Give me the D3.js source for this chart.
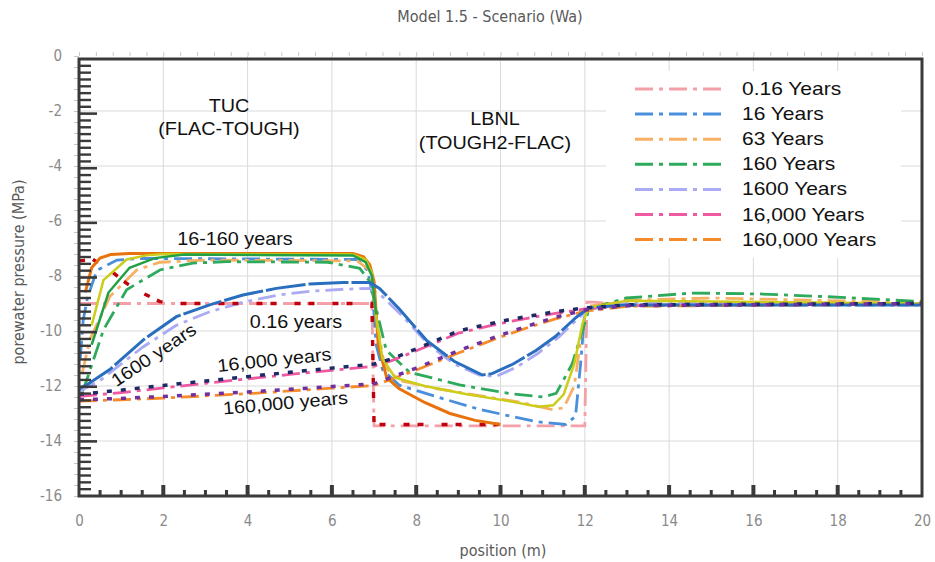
<!DOCTYPE html>
<html><head><meta charset="utf-8">
<script src="https://cdn.jsdelivr.net/npm/d3@7"></script>
<style>body{margin:0;background:#fff}svg{display:block}</style>
</head><body>
<svg id="chart" width="935" height="562"></svg>
<script>
// ---- axis ticks ----
const xTickValues = [0, 2, 4, 6, 8, 10, 12, 14, 16, 18, 20];
const yTickValues = [0, -2, -4, -6, -8, -10, -12, -14, -16];

// ---- LBNL (TOUGH2-FLAC) results, [position m, pressure MPa] ----
const lbnl016 = [[0,-9.0],[6.95,-9.0],[7.0,-13.45],[12.0,-13.45],[12.05,-8.95],[12.2,-8.95],[13,-9.05],[20,-9.05]];
const lbnl16 = [[0.03,-11.0],[0.1,-9.6],[0.2,-8.8],[0.42,-7.8],[0.9,-7.42],[1.5,-7.36],[6.6,-7.4],[6.85,-7.8],[6.97,-8.75],[7.05,-10.5],[7.2,-11.4],[7.6,-11.97],[8.5,-12.4],[9.5,-12.85],[10.85,-13.3],[11.55,-13.4],[11.78,-13.1],[11.9,-11.2],[12.0,-9.3],[12.2,-9.1],[13,-9.05],[20,-9.05]];
const lbnl63 = [[0.08,-11.5],[0.26,-10.3],[0.73,-8.75],[1.37,-7.78],[1.92,-7.5],[3,-7.42],[6.6,-7.45],[6.9,-7.8],[7.05,-9.5],[7.25,-11.3],[7.6,-11.8],[8.5,-12.1],[9.5,-12.35],[10.5,-12.6],[11.2,-12.85],[11.5,-12.8],[11.75,-12.0],[11.95,-9.8],[12.1,-9.1],[13,-8.88],[15,-8.8],[20,-8.97]];
const lbnl160 = [[0.08,-12.2],[0.18,-11.8],[0.58,-9.96],[1.13,-8.5],[1.92,-7.78],[2.7,-7.53],[3.5,-7.48],[5.9,-7.5],[6.66,-7.72],[6.9,-8.2],[7.1,-9.5],[7.29,-10.7],[7.84,-11.5],[9.03,-11.96],[10.2,-12.27],[11.0,-12.4],[11.32,-12.27],[11.7,-11.2],[11.95,-9.97],[12.1,-9.2],[12.98,-8.8],[14.55,-8.62],[16.1,-8.65],[17.7,-8.75],[20,-8.93]];
const lbnl1600 = [[0,-12.2],[0.5,-11.8],[1.5,-10.6],[2.3,-9.8],[3.1,-9.3],[3.9,-8.95],[4.7,-8.7],[5.5,-8.55],[6.3,-8.48],[6.9,-8.45],[7.2,-8.75],[7.7,-9.5],[8.3,-10.5],[8.9,-11.2],[9.5,-11.6],[9.9,-11.65],[10.4,-11.3],[10.9,-10.8],[11.4,-10.2],[11.8,-9.6],[12.1,-9.2],[13,-9.0],[20,-9.0]];
const lbnl16000 = [[0,-12.38],[1,-12.24],[2,-12.07],[3,-11.9],[4,-11.74],[5,-11.58],[6,-11.43],[7,-11.28],[7.45,-11.06],[8,-10.72],[9,-10.08],[10,-9.72],[10.6,-9.55],[11.3,-9.36],[12,-9.2],[13,-9.08],[20,-9.02]];
const lbnl160000 = [[0,-12.55],[1,-12.5],[2,-12.44],[3,-12.36],[4,-12.28],[5,-12.18],[6,-12.08],[7,-11.98],[7.45,-11.73],[8,-11.42],[9,-10.8],[10,-10.22],[10.6,-9.9],[11.3,-9.56],[12,-9.28],[13,-9.1],[20,-9.02]];

// ---- TUC (FLAC-TOUGH) results, [position m, pressure MPa] ----
const tuc016 = [[0,-7.45],[0.33,-7.4],[0.73,-7.78],[1.13,-8.27],[1.52,-8.63],[1.92,-8.93],[2.3,-9.0],[6.95,-9.0],[7.0,-13.4],[10.2,-13.4]];
const tuc16 = [[0.15,-8.6],[0.3,-7.7],[0.5,-7.35],[0.75,-7.22],[1.2,-7.18],[6.5,-7.18],[6.75,-7.3],[6.9,-7.6],[7.0,-8.2],[7.1,-10.5],[7.3,-11.7],[7.6,-12.1],[8.2,-12.6],[8.8,-13.0],[9.4,-13.25],[10,-13.4]];
const tuc63 = [[0.3,-9.8],[0.58,-8.15],[1.13,-7.4],[1.6,-7.25],[2,-7.2],[6.5,-7.22],[6.8,-7.4],[6.95,-7.9],[7.05,-9.5],[7.2,-11.0],[7.5,-11.7],[8.2,-12.0],[9.2,-12.3],[10.2,-12.55],[10.9,-12.75],[11.25,-12.7],[11.5,-12.3],[11.75,-11.2],[11.95,-9.7],[12.1,-9.15],[13,-8.9],[20,-9.0]];
const tuc160 = [[0.3,-10.5],[0.7,-8.6],[1.2,-7.7],[1.8,-7.35],[2.5,-7.22],[6.5,-7.25],[6.8,-7.5],[6.95,-8.0],[7.05,-9.4]];
const tuc1600 = [[0,-12.1],[0.18,-11.96],[0.73,-11.4],[1.52,-10.33],[2.31,-9.48],[3.1,-9.05],[3.89,-8.69],[4.68,-8.45],[5.47,-8.29],[6.26,-8.24],[6.9,-8.24],[7.13,-8.45],[7.6,-9.2],[8.24,-10.33],[8.9,-11.1],[9.57,-11.6],[9.8,-11.55],[10.3,-11.2],[10.85,-10.7],[11.3,-10.2],[11.8,-9.5],[12.1,-9.16],[13,-9.05],[20,-9.05]];
const tuc16000 = [[0,-12.3],[1,-12.15],[2,-11.98],[3,-11.82],[4,-11.66],[5,-11.5],[6,-11.35],[7,-11.2],[7.45,-11.0],[8,-10.65],[9,-10.0],[10,-9.65],[10.6,-9.48],[11.3,-9.3],[12,-9.16],[13,-9.05],[20,-9.0]];
const tuc160000 = [[0,-12.5],[1,-12.45],[2,-12.38],[3,-12.3],[4,-12.22],[5,-12.12],[6,-12.02],[7,-11.92],[7.45,-11.66],[8,-11.35],[9,-10.72],[10,-10.15],[10.6,-9.84],[11.3,-9.5],[12,-9.24],[13,-9.08],[20,-9.0]];

const legendLabels = ["0.16 Years","16 Years","63 Years","160 Years","1600 Years","16,000 Years","160,000 Years"];
const lbnlColors = ["#f4a0a8","#4a8fdc","#f7b064","#2eaa5c","#aaaaf5","#ef59a1","#f58b2a"];
const lbnlSeries = [lbnl016, lbnl16, lbnl63, lbnl160, lbnl1600, lbnl16000, lbnl160000];

const tucSeries = [
  {data: tuc016,    color: "#c0000a", width: 3.4, dash: "6,8,6,18"},
  {data: tuc16,     color: "#e8720c", width: 3,   dash: null},
  {data: tuc63,     color: "#cccc1a", width: 2.5, dash: null},
  {data: tuc160,    color: "#22a046", width: 2.5, dash: null},
  {data: tuc1600,   color: "#2a6fbf", width: 3,   dash: "40,3"},
  {data: tuc16000,  color: "#1c2a66", width: 3.5, dash: "5,9"},
  {data: tuc160000, color: "#7030a0", width: 3.5, dash: "5,9"}
];

const svg = d3.select("#chart");
const x = d3.scaleLinear().domain([0, 20]).range([79, 922]);
const y = d3.scaleLinear().domain([0, -16]).range([56, 496]);
const yInner = d3.scaleLinear().domain([0, -16]).range([59, 496]);
const narrow = "'Liberation Sans Narrow', 'DejaVu Sans Condensed', sans-serif";
const arial = "'Liberation Sans', Arial, sans-serif";

// title
svg.append("text").attr("x", 490).attr("y", 22).attr("text-anchor", "middle")
  .attr("font-family", narrow).attr("font-size", 16).attr("fill", "#595959")
  .text("Model 1.5 - Scenario (Wa)");

// grid
const grid = svg.append("g").attr("stroke", "#dadada").attr("stroke-width", 1);
grid.selectAll("line.v").data(xTickValues.slice(1, -1)).join("line")
  .attr("x1", d => x(d)).attr("x2", d => x(d)).attr("y1", y(0)).attr("y2", y(-16));
grid.selectAll("line.h").data(yTickValues.slice(1, -1)).join("line")
  .attr("x1", x(0)).attr("x2", x(20)).attr("y1", d => y(d)).attr("y2", d => y(d));

// light outer minor ticks
const topTicks = svg.append("g").attr("transform", `translate(0,${y(0)})`)
  .call(d3.axisTop(x).tickValues(d3.range(0, 20.001, 0.4)).tickSize(4).tickFormat(""));
const leftTicks = svg.append("g").attr("transform", `translate(${x(0)},0)`)
  .call(d3.axisLeft(y).tickValues(d3.range(0, -16.001, -0.4)).tickSize(5).tickFormat(""));
[topTicks, leftTicks].forEach(g => {
  g.select(".domain").remove();
  g.selectAll("line").attr("stroke", "#c8c8c8");
});

// tick labels (plain hyphen for negatives)
const fmt = d => String(d);
const xLab = svg.append("g").attr("transform", `translate(0,${y(-16)})`)
  .call(d3.axisBottom(x).tickValues(xTickValues).tickSize(0).tickPadding(19).tickFormat(fmt));
const yLab = svg.append("g").attr("transform", `translate(${x(0)},0)`)
  .call(d3.axisLeft(y).tickValues(yTickValues).tickSize(0).tickPadding(17).tickFormat(fmt));
[xLab, yLab].forEach(g => {
  g.select(".domain").remove();
  g.selectAll("text").attr("font-family", narrow).attr("font-size", 15).attr("fill", "#8a8a8a");
});

// axis titles
svg.append("text").attr("x", 503).attr("y", 556).attr("text-anchor", "middle")
  .attr("font-family", narrow).attr("font-size", 16).attr("fill", "#595959").text("position (m)");
svg.append("text").attr("transform", "translate(24,272) rotate(-90)").attr("text-anchor", "middle")
  .attr("font-family", narrow).attr("font-size", 16).attr("fill", "#595959").text("porewater pressure (MPa)");

// data lines
const line = d3.line().x(d => x(d[0])).y(d => y(d[1]));
const plot = svg.append("g");
lbnlSeries.forEach((s, i) => {
  plot.append("path").attr("d", line(s)).attr("fill", "none")
    .attr("stroke", lbnlColors[i]).attr("stroke-width", 2.8)
    .attr("stroke-dasharray", "18,6,4,6");
});
tucSeries.forEach(s => {
  plot.append("path").attr("d", line(s.data)).attr("fill", "none")
    .attr("stroke", s.color).attr("stroke-width", s.width)
    .attr("stroke-dasharray", s.dash);
});

// inner frame with ticks
const frame = svg.append("g").attr("stroke", "#3a3a3a");
const minorY = d3.range(-0.25, -16, -0.25).filter(v => Math.abs(v % 2) > 1e-6);
const majorY = d3.range(-2, -16, -2);
frame.selectAll("line.my").data(minorY).join("line")
  .attr("x1", x(0)).attr("x2", x(0) + 12).attr("y1", d => yInner(d)).attr("y2", d => yInner(d))
  .attr("stroke-width", 2.4);
frame.selectAll("line.My").data(majorY).join("line")
  .attr("x1", x(0)).attr("x2", x(0) + 18).attr("y1", d => yInner(d)).attr("y2", d => yInner(d))
  .attr("stroke-width", 2.6);
const minorX = d3.range(0.5, 20, 0.5).filter(v => Math.abs(v % 2) > 1e-6);
const majorX = d3.range(2, 20, 2);
frame.selectAll("line.mx").data(minorX).join("line")
  .attr("x1", d => x(d)).attr("x2", d => x(d)).attr("y1", yInner(-16)).attr("y2", yInner(-16) - 6)
  .attr("stroke-width", 3);
frame.selectAll("line.Mx").data(majorX).join("line")
  .attr("x1", d => x(d)).attr("x2", d => x(d)).attr("y1", yInner(-16)).attr("y2", yInner(-16) - 11)
  .attr("stroke-width", 4);
frame.append("rect").attr("x", x(0)).attr("y", yInner(0))
  .attr("width", x(20) - x(0)).attr("height", yInner(-16) - yInner(0))
  .attr("fill", "none").attr("stroke-width", 3);

// legend
const legend = svg.append("g");
legend.append("rect").attr("x", 606).attr("y", 71).attr("width", 295).attr("height", 187).attr("fill", "#fff");
legendLabels.forEach((lab, i) => {
  const ly = 89 + i * 25.1;
  legend.append("line").attr("x1", 635).attr("x2", 721).attr("y1", ly).attr("y2", ly)
    .attr("stroke", lbnlColors[i]).attr("stroke-width", 3).attr("stroke-dasharray", "18,6,4,6");
  legend.append("text").attr("transform", `translate(742,${ly + 6}) scale(1.2,1)`)
    .attr("font-family", arial).attr("font-size", 17.5).attr("fill", "#111").text(lab);
});

// annotations
const notes = [
  {t: "TUC", x: 229, y: 112, r: 0},
  {t: "(FLAC-TOUGH)", x: 229, y: 135, r: 0},
  {t: "LBNL", x: 495, y: 125, r: 0},
  {t: "(TOUGH2-FLAC)", x: 495, y: 149, r: 0},
  {t: "16-160 years", x: 235, y: 245, r: 0},
  {t: "0.16 years", x: 296, y: 328, r: 0},
  {t: "1600 years", x: 157, y: 360, r: -34},
  {t: "16,000 years", x: 275, y: 366, r: -6},
  {t: "160,000 years", x: 286, y: 409, r: -5}
];
svg.append("g").selectAll("text").data(notes).join("text")
  .attr("transform", d => `translate(${d.x},${d.y}) rotate(${d.r}) scale(1.1,1)`)
  .attr("text-anchor", "middle").attr("font-family", arial).attr("font-size", 18).attr("fill", "#111")
  .text(d => d.t);
</script>
</body></html>
